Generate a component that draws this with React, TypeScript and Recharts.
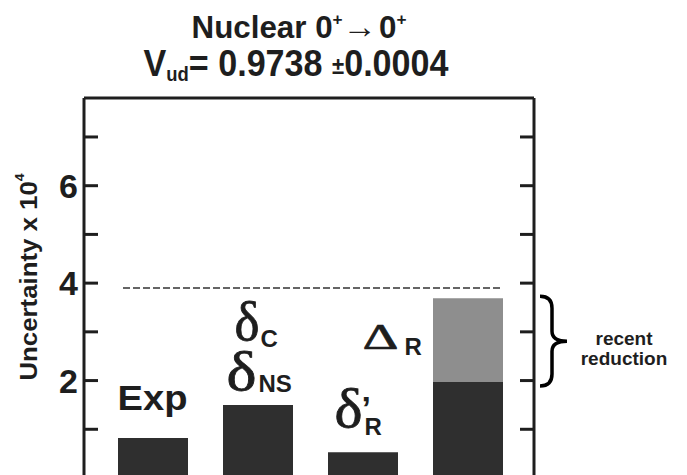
import React from 'react';
import { ComposedChart, Bar, Line, XAxis, YAxis, ReferenceLine, ReferenceArea } from 'recharts';

const categories = ['Exp', 'δC / δNS', "δ'R", 'ΔR'];
const baseValues = [0.82, 1.5, 0.53, 1.97];
const reductionValues = [0, 0, 0, 1.72];
const yTicks = [1, 2, 3, 4, 5, 6, 7];
const yLabelTicks = [2, 4, 6];
const previousTotal = 3.9;
const yMax = 7.8;
const titleLine1 = 'Nuclear';
const vudValue = '0.9738';
const vudError = '0.0004';
const yAxisTitle = 'Uncertainty x 10';
const annotation = ['recent', 'reduction'];

const data = categories.map((name, i) => ({
  name,
  base: baseValues[i],
  reduction: reductionValues[i],
  total: baseValues[i] + reductionValues[i],
}));

const SANS = "'Liberation Sans', Arial, Helvetica, sans-serif";
const SERIF = "'Liberation Serif', 'Times New Roman', serif";
const INK = '#1e1e1e';
const DARK = '#2f2f2f';
const LIGHT = '#8e8e8e';

const LeftTick = (props: any) => {
  const { x, y, payload } = props;
  const show = yLabelTicks.includes(payload.value);
  return (
    <g>
      <line x1={x} x2={x + 14} y1={y} y2={y} stroke={INK} strokeWidth={3} />
      {show && (
        <text x={x - 6} y={y} dy="0.36em" textAnchor="end" fontFamily={SANS} fontWeight="bold" fontSize={34} fill={INK}>
          {payload.value}
        </text>
      )}
    </g>
  );
};

const RightTick = (props: any) => {
  const { x, y } = props;
  return <line x1={x - 14} x2={x} y1={y} y2={y} stroke={INK} strokeWidth={3} />;
};

const Delta = ({ x, y, w }: { x: number; y: number; w: number }) => (
  <text x={x} y={y} fontFamily={SERIF} fontSize={54} fill={INK} stroke={INK} strokeWidth={0.8} textLength={w} lengthAdjust="spacingAndGlyphs">
    δ
  </text>
);

const Sub = ({ x, y, children }: { x: number; y: number; children: React.ReactNode }) => (
  <text x={x} y={y} fontFamily={SANS} fontWeight="bold" fontSize={24} fill={INK}>
    {children}
  </text>
);

const renderLabel = (props: any) => {
  const { cx, cy, index } = props;
  const key = `lbl-${index}`;
  if (index === 0) {
    return (
      <text key={key} x={cx} y={cy - 28} textAnchor="middle" fontFamily={SANS} fontWeight="bold" fontSize={35} fill={INK} textLength={70} lengthAdjust="spacingAndGlyphs">
        Exp
      </text>
    );
  }
  if (index === 1) {
    return (
      <g key={key}>
        <Delta x={cx - 23} y={cy - 65} w={25} />
        <Sub x={cx + 3} y={cy - 58}>C</Sub>
        <Delta x={cx - 31} y={cy - 15} w={30} />
        <Sub x={cx + 1} y={cy - 13}>NS</Sub>
      </g>
    );
  }
  if (index === 2) {
    return (
      <g key={key}>
        <Delta x={cx - 28} y={cy - 25} w={28} />
        <text x={cx - 1} y={cy - 32} fontFamily={SANS} fontWeight="bold" fontSize={34} fill={INK}>’</text>
        <Sub x={cx + 2} y={cy - 17}>R</Sub>
      </g>
    );
  }
  return (
    <g key={key}>
      <text x={cx - 105} y={cy + 51} fontFamily={SERIF} fontSize={36} fill={INK} stroke={INK} strokeWidth={0.6} textLength={36} lengthAdjust="spacingAndGlyphs">
        Δ
      </text>
      <Sub x={cx - 63} y={cy + 57}>R</Sub>
    </g>
  );
};

const BraceShape = (props: any) => {
  const { x, y, width, height } = props;
  const left = x + width + 20;
  const top = y - 2;
  const bottom = y + height + 4;
  const mid = (top + bottom) / 2;
  const vx = left + 12;
  const tip = left + 27;
  const d = `M ${left} ${top} Q ${vx} ${top} ${vx} ${top + 12} L ${vx} ${mid - 10} Q ${vx} ${mid} ${tip} ${mid} Q ${vx} ${mid} ${vx} ${mid + 10} L ${vx} ${bottom - 12} Q ${vx} ${bottom} ${left} ${bottom}`;
  const tx = x + width + 104;
  return (
    <g>
      <path d={d} fill="none" stroke="#000" strokeWidth={3.5} />
      <text x={tx} y={mid + 4} textAnchor="middle" fontFamily={SANS} fontWeight="bold" fontSize={19} fill={INK}>
        {annotation[0]}
      </text>
      <text x={tx} y={mid + 24} textAnchor="middle" fontFamily={SANS} fontWeight="bold" fontSize={19} fill={INK}>
        {annotation[1]}
      </text>
    </g>
  );
};

const DashedShape = (props: any) => {
  const { x1, x2, y1, y2 } = props;
  return <line x1={x1 + 39} x2={x2 - 31} y1={y1} y2={y2} stroke="#333" strokeWidth={1.5} strokeDasharray="7 3" />;
};

export default function App() {
  return (
    <div style={{ position: 'absolute', left: 0, top: 0, width: 687, height: 475, overflow: 'hidden', background: '#fff' }}>
      <ComposedChart width={687} height={480} data={data} margin={{ top: 98, right: 143, bottom: 2, left: 0 }}>
        <XAxis dataKey="name" type="category" hide height={0} padding={{ left: 16, right: 14 }} />
        <YAxis
          domain={[0, yMax]}
          ticks={yTicks}
          width={84}
          tickSize={0}
          tickMargin={0}
          tickLine={false}
          tick={LeftTick}
          axisLine={{ stroke: INK, strokeWidth: 3 }}
          allowDataOverflow
          interval={0}
        />
        <YAxis
          yAxisId="right"
          orientation="right"
          domain={[0, yMax]}
          ticks={yTicks}
          width={10}
          tickSize={0}
          tickMargin={0}
          tickLine={false}
          tick={RightTick}
          axisLine={{ stroke: INK, strokeWidth: 3 }}
          allowDataOverflow
          interval={0}
        />
        <ReferenceLine y={yMax} stroke={INK} strokeWidth={3} />
        <ReferenceLine y={previousTotal} shape={DashedShape} />
        <Bar dataKey="base" stackId="s" fill={DARK} barSize={70} isAnimationActive={false} />
        <Bar dataKey="reduction" stackId="s" fill={LIGHT} barSize={70} isAnimationActive={false} />
        <Line dataKey="total" stroke="none" dot={renderLabel} activeDot={false} isAnimationActive={false} />
        <ReferenceArea y1={baseValues[3]} y2={baseValues[3] + reductionValues[3]} ifOverflow="visible" shape={BraceShape} />
      </ComposedChart>
      <svg width={687} height={475} style={{ position: 'absolute', left: 0, top: 0, pointerEvents: 'none' }}>
        <text x={299} y={38} textAnchor="middle" fontFamily={SANS} fontWeight="bold" fontSize={31} fill={INK} textLength={215} lengthAdjust="spacingAndGlyphs">
          {titleLine1} 0<tspan fontSize={17} dy={-13}>+</tspan>
          <tspan fontSize={34} dy={13}>→</tspan>
          <tspan dx={2}>0</tspan>
          <tspan fontSize={17} dy={-13}>+</tspan>
        </text>
        <text x={296} y={76} textAnchor="middle" fontFamily={SANS} fontWeight="bold" fontSize={37} fill={INK} textLength={305} lengthAdjust="spacingAndGlyphs">
          V<tspan fontSize={20} dy={5}>ud</tspan>
          <tspan dy={-5}>= {vudValue} </tspan>
          <tspan fontSize={24} dy={-2}>±</tspan>
          <tspan dy={2}>{vudError}</tspan>
        </text>
        <text
          x={28}
          y={277}
          transform="rotate(-90, 28, 277)"
          textAnchor="middle"
          dominantBaseline="central"
          fontFamily={SANS}
          fontWeight="bold"
          fontSize={24}
          fill={INK}
          textLength={207}
          lengthAdjust="spacingAndGlyphs"
        >
          {yAxisTitle}
          <tspan fontSize={13} dy={-9}>4</tspan>
        </text>
      </svg>
    </div>
  );
}
